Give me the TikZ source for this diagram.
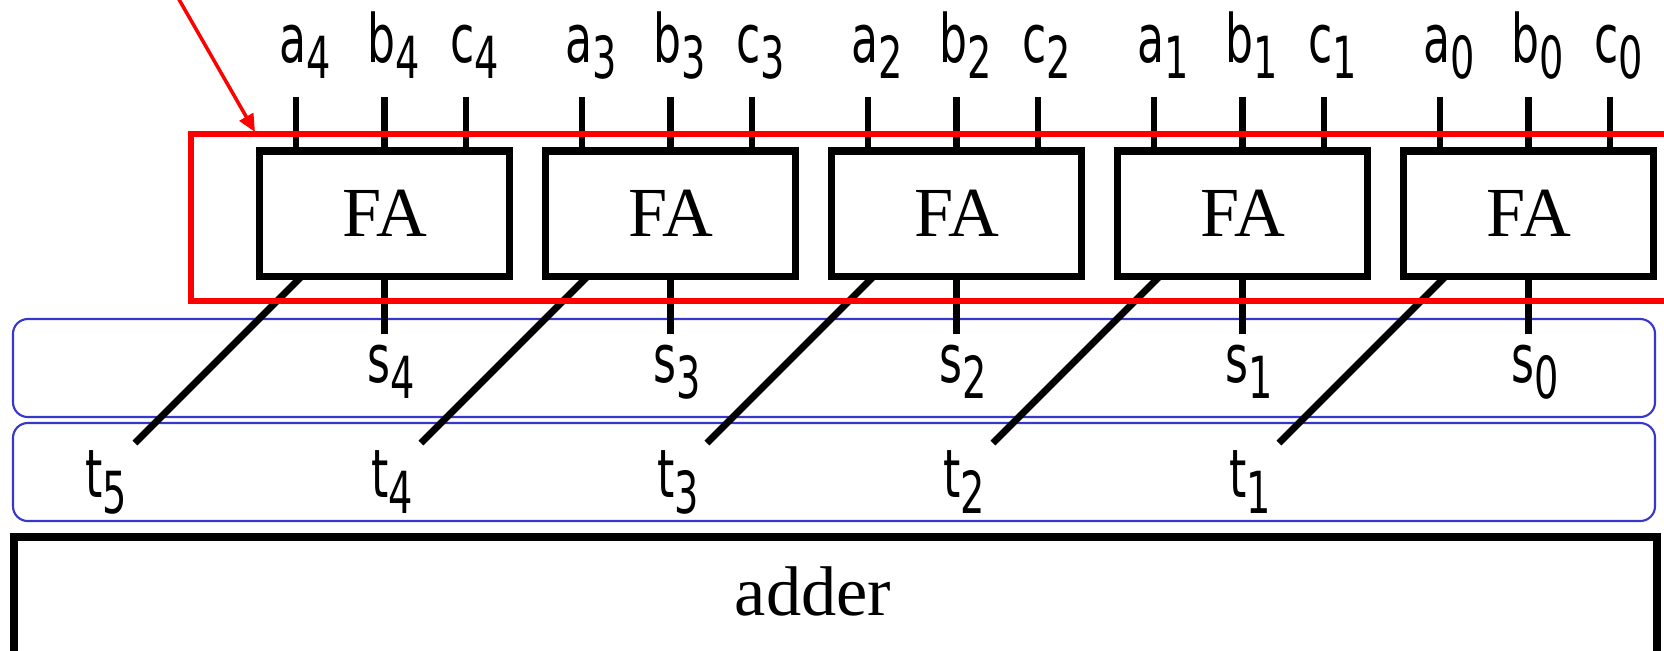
\documentclass[tikz,border=0pt]{standalone}
\usepackage{fontspec}
\setmainfont{Liberation Serif}
\newfontfamily\sigfont[FakeStretch=0.66]{DejaVu Sans}
\usetikzlibrary{positioning}
\usetikzlibrary{arrows.meta}
\definecolor{laneblue}{RGB}{55,55,205}
\newcommand{\sig}[2]{{\sigfont\fontsize{19}{21}\selectfont #1\raisebox{-4.6pt}{\fontsize{16.5}{18}\selectfont #2}}}
\tikzset{
    fabox/.style = {rectangle, line width=2pt, draw=black, fill=white, minimum width=2.49cm, minimum height=1.25cm, inner sep=0pt, font=\fontsize{20}{22}\selectfont},
    wire/.style = {line width=1.95pt, draw=black},
    siglab/.style = {anchor=base, inner sep=0pt},
    lane/.style = {line width=0.6pt, draw=laneblue, rounded corners=4.2pt},
    group/.style = {line width=1.6pt, draw=red},
    pointer/.style = {line width=1pt, draw=red, -{Triangle[length=5pt,width=4.4pt]}},
    adderbox/.style = {line width=2.1pt, draw=black}
}
\begin{document}
\begin{tikzpicture}[x=0.01cm, y=-0.01cm]
\useasboundingbox (0,0) rectangle (1664,650);
%
\draw[lane] (13,319) rectangle (1655,417);
\draw[lane] (13,423) rectangle (1655,521);
\draw[adderbox] (14,537) rectangle (1657,720);
\node[font=\fontsize{20}{22}\selectfont, anchor=base] at (813,615) (adder) {adder};
%
\node[fabox] at (384.5,213.5) (fa4) {FA};
\node[fabox] at (670.5,213.5) (fa3) {FA};
\node[fabox] at (956.5,213.5) (fa2) {FA};
\node[fabox] at (1242.5,213.5) (fa1) {FA};
\node[fabox] at (1528.5,213.5) (fa0) {FA};
%
\node[siglab] at (305,62) (a4) {\sig{a}{4}};
\node[siglab] at (393.5,62) (b4) {\sig{b}{4}};
\node[siglab] at (475,62) (c4) {\sig{c}{4}};
\node[siglab] at (591,62) (a3) {\sig{a}{3}};
\node[siglab] at (679.5,62) (b3) {\sig{b}{3}};
\node[siglab] at (761,62) (c3) {\sig{c}{3}};
\node[siglab] at (877,62) (a2) {\sig{a}{2}};
\node[siglab] at (965.5,62) (b2) {\sig{b}{2}};
\node[siglab] at (1047,62) (c2) {\sig{c}{2}};
\node[siglab] at (1163,62) (a1) {\sig{a}{1}};
\node[siglab] at (1251.5,62) (b1) {\sig{b}{1}};
\node[siglab] at (1333,62) (c1) {\sig{c}{1}};
\node[siglab] at (1449,62) (a0) {\sig{a}{0}};
\node[siglab] at (1537.5,62) (b0) {\sig{b}{0}};
\node[siglab] at (1619,62) (c0) {\sig{c}{0}};
%
\node[siglab] at (391.5,382) (s4) {\sig{s}{4}};
\node[siglab] at (677.5,382) (s3) {\sig{s}{3}};
\node[siglab] at (963.5,382) (s2) {\sig{s}{2}};
\node[siglab] at (1249.5,382) (s1) {\sig{s}{1}};
\node[siglab] at (1535.5,382) (s0) {\sig{s}{0}};
%
\node[siglab] at (106,497) (t5) {\sig{t}{5}};
\node[siglab] at (392,497) (t4) {\sig{t}{4}};
\node[siglab] at (678,497) (t3) {\sig{t}{3}};
\node[siglab] at (964,497) (t2) {\sig{t}{2}};
\node[siglab] at (1250,497) (t1) {\sig{t}{1}};
%
\coordinate (pa4) at (296,97);  \coordinate (pb4) at (384.5,97);  \coordinate (pc4) at (466,97);
\coordinate (pa3) at (582,97);  \coordinate (pb3) at (670.5,97);  \coordinate (pc3) at (752,97);
\coordinate (pa2) at (868,97);  \coordinate (pb2) at (956.5,97);  \coordinate (pc2) at (1038,97);
\coordinate (pa1) at (1154,97); \coordinate (pb1) at (1242.5,97); \coordinate (pc1) at (1324,97);
\coordinate (pa0) at (1440,97); \coordinate (pb0) at (1528.5,97); \coordinate (pc0) at (1610,97);
\draw[wire] (pa4) -- (pa4 |- fa4.north);
\draw[wire] (pb4) -- (fa4.north);
\draw[wire] (pc4) -- (pc4 |- fa4.north);
\draw[wire] (pa3) -- (pa3 |- fa3.north);
\draw[wire] (pb3) -- (fa3.north);
\draw[wire] (pc3) -- (pc3 |- fa3.north);
\draw[wire] (pa2) -- (pa2 |- fa2.north);
\draw[wire] (pb2) -- (fa2.north);
\draw[wire] (pc2) -- (pc2 |- fa2.north);
\draw[wire] (pa1) -- (pa1 |- fa1.north);
\draw[wire] (pb1) -- (fa1.north);
\draw[wire] (pc1) -- (pc1 |- fa1.north);
\draw[wire] (pa0) -- (pa0 |- fa0.north);
\draw[wire] (pb0) -- (fa0.north);
\draw[wire] (pc0) -- (pc0 |- fa0.north);
%
\draw[wire] (fa4.south) -- ++(0,54);
\draw[wire] (fa3.south) -- ++(0,54);
\draw[wire] (fa2.south) -- ++(0,54);
\draw[wire] (fa1.south) -- ++(0,54);
\draw[wire] (fa0.south) -- ++(0,54);
%
\coordinate (k4) at (302,276);  \coordinate (e5) at (135,443);
\coordinate (k3) at (588,276);  \coordinate (e4) at (421,443);
\coordinate (k2) at (874,276);  \coordinate (e3) at (707,443);
\coordinate (k1) at (1160,276); \coordinate (e2) at (993,443);
\coordinate (k0) at (1446,276); \coordinate (e1) at (1279,443);
\draw[wire] (k4) -- (e5);
\draw[wire] (k3) -- (e4);
\draw[wire] (k2) -- (e3);
\draw[wire] (k1) -- (e2);
\draw[wire] (k0) -- (e1);
%
\draw[group] (191,134) rectangle (1700,301);
\coordinate (from) at (165,-25);
\coordinate (tip) at (255,132);
\draw[pointer] (from) -- (tip);
\end{tikzpicture}
\end{document}
